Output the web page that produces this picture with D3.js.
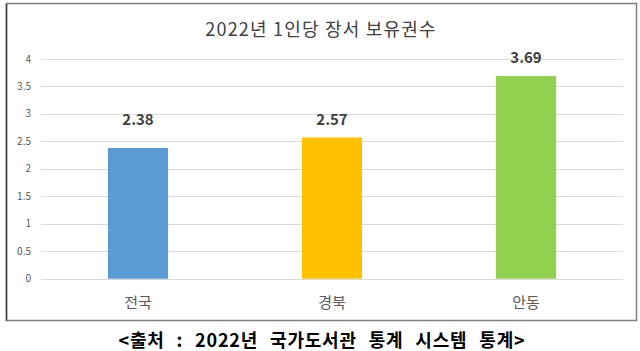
<!DOCTYPE html>
<html>
<head>
<meta charset="utf-8">
<script src="https://cdn.jsdelivr.net/npm/d3@7"></script>
<style>
  body { margin: 0; background: #fff; }
  svg { display: block; font-family: "Noto Sans CJK KR", "Noto Sans", sans-serif; }
</style>
</head>
<body>
<svg id="chart" width="640" height="351"></svg>
<script>
const regions = ['전국', '경북', '안동'];
const books = [2.38, 2.57, 3.69];
const barColors = ['#5B9BD5', '#FFC000', '#92D050'];
const yTicks = [0, 0.5, 1, 1.5, 2, 2.5, 3, 3.5, 4];
const chartTitle = '2022년 1인당 장서 보유권수';
const sourceNote = '<출처 : 2022년 국가도서관 통계 시스템 통계>';

const svg = d3.select('#chart');

// outer frame
svg.append('rect')
  .attr('x', 6.5).attr('y', 3.5)
  .attr('width', 630).attr('height', 317)
  .attr('fill', '#fff')
  .attr('stroke', '#7f7f7f')
  .attr('stroke-width', 1.5);
svg.append('line')
  .attr('x1', 6.5).attr('x2', 6.5).attr('y1', 3.5).attr('y2', 320.5)
  .attr('stroke', '#404040').attr('stroke-width', 1.5);

const x = d3.scaleBand().domain(regions).range([41, 623]).paddingInner(0.69).paddingOuter(0.345);
const y = d3.scaleLinear().domain([0, 4]).range([278.7, 59]);

// gridlines
svg.append('g')
  .selectAll('line')
  .data(yTicks)
  .join('line')
  .attr('x1', 41).attr('x2', 623)
  .attr('y1', d => Math.round(y(d)) + 0.5)
  .attr('y2', d => Math.round(y(d)) + 0.5)
  .attr('stroke', '#d9d9d9')
  .attr('stroke-width', 1);

// y tick labels
svg.append('g')
  .selectAll('text')
  .data(yTicks)
  .join('text')
  .attr('x', 31)
  .attr('y', d => y(d))
  .attr('dy', '0.35em')
  .attr('text-anchor', 'end')
  .attr('font-size', 10)
  .attr('fill', '#595959')
  .text(d => d);

// bars
svg.append('g')
  .selectAll('rect')
  .data(books)
  .join('rect')
  .attr('x', (d, i) => x(regions[i]))
  .attr('y', d => y(d))
  .attr('width', x.bandwidth())
  .attr('height', d => y(0) - y(d))
  .attr('fill', (d, i) => barColors[i]);

// value labels (the first one sits level with its neighbour, as in the source)
svg.append('g')
  .selectAll('text')
  .data(books)
  .join('text')
  .attr('x', (d, i) => x(regions[i]) + x.bandwidth() / 2)
  .attr('y', (d, i) => y(i === 0 ? Math.max(d, books[1]) : d) - 18)
  .attr('dy', '0.35em')
  .attr('text-anchor', 'middle')
  .attr('font-size', 15)
  .attr('font-weight', 'bold')
  .attr('fill', '#404040')
  .text(d => d.toFixed(2));

// category labels
svg.append('g')
  .selectAll('text')
  .data(regions)
  .join('text')
  .attr('x', d => x(d) + x.bandwidth() / 2)
  .attr('y', 303)
  .attr('dy', '0.35em')
  .attr('text-anchor', 'middle')
  .attr('font-size', 15)
  .attr('fill', '#595959')
  .text(d => d);

// title
svg.append('text')
  .attr('x', 321).attr('y', 30)
  .attr('dy', '0.35em')
  .attr('text-anchor', 'middle')
  .attr('font-size', 18)
  .attr('letter-spacing', 1.2)
  .attr('fill', '#404040')
  .text(chartTitle);

// source note
svg.append('text')
  .attr('x', 322).attr('y', 341)
  .attr('dy', '0.35em')
  .attr('text-anchor', 'middle')
  .attr('font-size', 18)
  .attr('font-weight', 'bold')
  .attr('fill', '#000')
  .attr('letter-spacing', 0.8)
  .attr('word-spacing', 7)
  .text(sourceNote);
</script>
</body>
</html>
